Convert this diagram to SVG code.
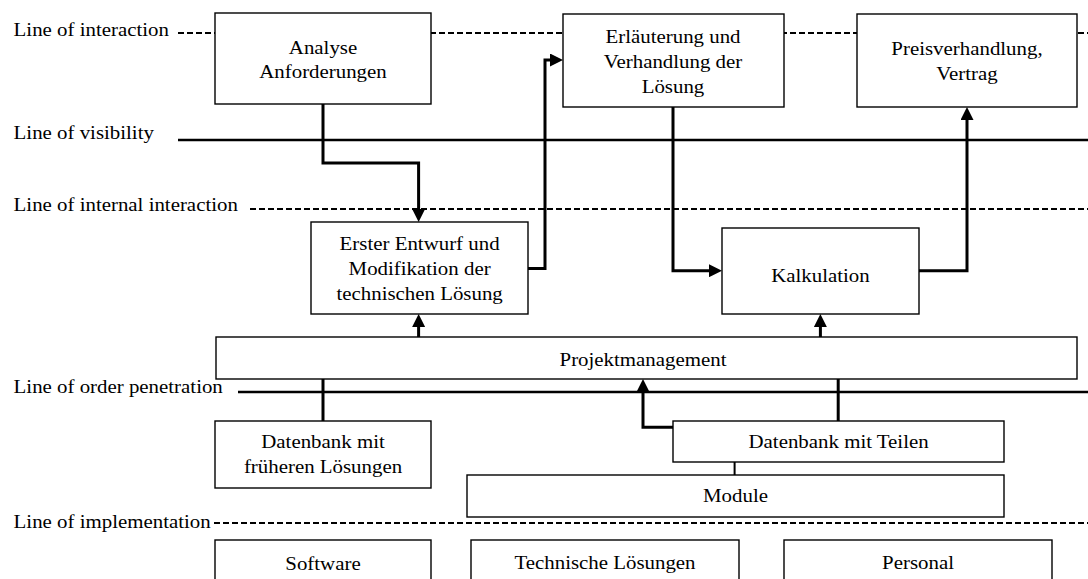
<svg xmlns="http://www.w3.org/2000/svg" width="1088" height="579" viewBox="0 0 1088 579">
  <style>
    .bg { fill: #ffffff; }
    .box { fill: #ffffff; stroke: #000000; stroke-width: 1.4; }
    .t { font-family: "Liberation Serif", "Times New Roman", serif; font-size: 18px; fill: #000000; }
    .c { text-anchor: middle; }
    .dash { fill: none; stroke: #000000; stroke-width: 2.2; stroke-dasharray: 6 3; }
    .solid { fill: none; stroke: #000000; stroke-width: 2.5; }
    .conn { fill: none; stroke: #000000; stroke-width: 3; }
    .thin { fill: none; stroke: #000000; stroke-width: 2; }
  </style>
  <defs>
    <marker id="arrow" markerUnits="userSpaceOnUse" markerWidth="13" markerHeight="13" refX="5" refY="6.5" orient="auto">
      <path d="M0,0 L13,6.5 L0,13 Z" fill="#000000"/>
    </marker>
  </defs>

  <rect class="bg" x="0" y="0" width="1088" height="579"/>

  <!-- Swimlane boundaries -->
  <g id="lanes">
    <line class="dash" x1="178" y1="33" x2="1088" y2="33"/>
    <line class="solid" x1="178" y1="140" x2="1088" y2="140"/>
    <line class="dash" x1="250" y1="209" x2="1088" y2="209"/>
    <line class="solid" x1="238" y1="392" x2="1088" y2="392"/>
    <line class="dash" x1="214" y1="523" x2="1088" y2="523"/>
    <text class="t" transform="translate(13.6,36) scale(1.16,1)">Line of interaction</text>
    <text class="t" transform="translate(13.6,138.5) scale(1.16,1)">Line of visibility</text>
    <text class="t" transform="translate(13.6,211) scale(1.16,1)">Line of internal interaction</text>
    <text class="t" transform="translate(13.6,393) scale(1.16,1)">Line of order penetration</text>
    <text class="t" transform="translate(13.6,528) scale(1.16,1)">Line of implementation</text>
  </g>

  <!-- Connectors -->
  <g id="connectors">
    <path class="conn" d="M323,104 V163 H418.6 V214" marker-end="url(#arrow)"/>
    <path class="conn" d="M528,268.5 H545 V60 H555" marker-end="url(#arrow)"/>
    <path class="conn" d="M673,107 V270.7 H714" marker-end="url(#arrow)"/>
    <path class="conn" d="M919,270.7 H967 V115" marker-end="url(#arrow)"/>
    <path class="conn" d="M418.6,337 V322" marker-end="url(#arrow)"/>
    <path class="conn" d="M820.4,337 V322" marker-end="url(#arrow)"/>
    <path class="conn" d="M323,379 V421"/>
    <path class="conn" d="M673,427.3 H643 V387" marker-end="url(#arrow)"/>
    <path class="conn" d="M838.2,421 V379"/>
    <path class="thin" d="M734.6,462 V475"/>
  </g>

  <g id="analyse">
    <rect class="box" x="215" y="13" width="216" height="91"/>
    <text class="t c" transform="translate(323,54.3) scale(1.16,1)">Analyse</text>
    <text class="t c" transform="translate(323,78.3) scale(1.16,1)">Anforderungen</text>
  </g>

  <g id="erlaeuterung">
    <rect class="box" x="563" y="14" width="221" height="93"/>
    <text class="t c" transform="translate(673,43.3) scale(1.16,1)">Erläuterung und</text>
    <text class="t c" transform="translate(673,68.3) scale(1.16,1)">Verhandlung der</text>
    <text class="t c" transform="translate(673,93.3) scale(1.16,1)">Lösung</text>
  </g>

  <g id="preisverhandlung">
    <rect class="box" x="857" y="14" width="220" height="93"/>
    <text class="t c" transform="translate(967,55) scale(1.16,1)">Preisverhandlung,</text>
    <text class="t c" transform="translate(967,80) scale(1.16,1)">Vertrag</text>
  </g>

  <g id="entwurf">
    <rect class="box" x="311" y="222" width="217" height="92"/>
    <text class="t c" transform="translate(419.6,250) scale(1.16,1)">Erster Entwurf und</text>
    <text class="t c" transform="translate(419.6,275) scale(1.16,1)">Modifikation der</text>
    <text class="t c" transform="translate(419.6,300) scale(1.16,1)">technischen Lösung</text>
  </g>

  <g id="kalkulation">
    <rect class="box" x="722" y="228" width="197" height="86"/>
    <text class="t c" transform="translate(820.4,281.7) scale(1.16,1)">Kalkulation</text>
  </g>

  <g id="projektmanagement">
    <rect class="box" x="216" y="337" width="861" height="42"/>
    <text class="t c" transform="translate(643,366) scale(1.16,1)">Projektmanagement</text>
  </g>

  <g id="datenbank-loesungen">
    <rect class="box" x="215" y="421" width="216" height="67"/>
    <text class="t c" transform="translate(323,448.3) scale(1.16,1)">Datenbank mit</text>
    <text class="t c" transform="translate(323,473.3) scale(1.16,1)">früheren Lösungen</text>
  </g>

  <g id="datenbank-teile">
    <rect class="box" x="673" y="421" width="331" height="41"/>
    <text class="t c" transform="translate(838.6,448.3) scale(1.16,1)">Datenbank mit Teilen</text>
  </g>

  <g id="module">
    <rect class="box" x="467" y="475" width="537" height="42"/>
    <text class="t c" transform="translate(735.5,501.7) scale(1.16,1)">Module</text>
  </g>

  <g id="software">
    <rect class="box" x="215" y="540" width="216" height="50"/>
    <text class="t c" transform="translate(323,570) scale(1.16,1)">Software</text>
  </g>

  <g id="technische-loesungen">
    <rect class="box" x="471" y="540" width="268" height="50"/>
    <text class="t c" transform="translate(605,568.5) scale(1.16,1)">Technische Lösungen</text>
  </g>

  <g id="personal">
    <rect class="box" x="784" y="540" width="268" height="50"/>
    <text class="t c" transform="translate(918,568.5) scale(1.16,1)">Personal</text>
  </g>
</svg>
